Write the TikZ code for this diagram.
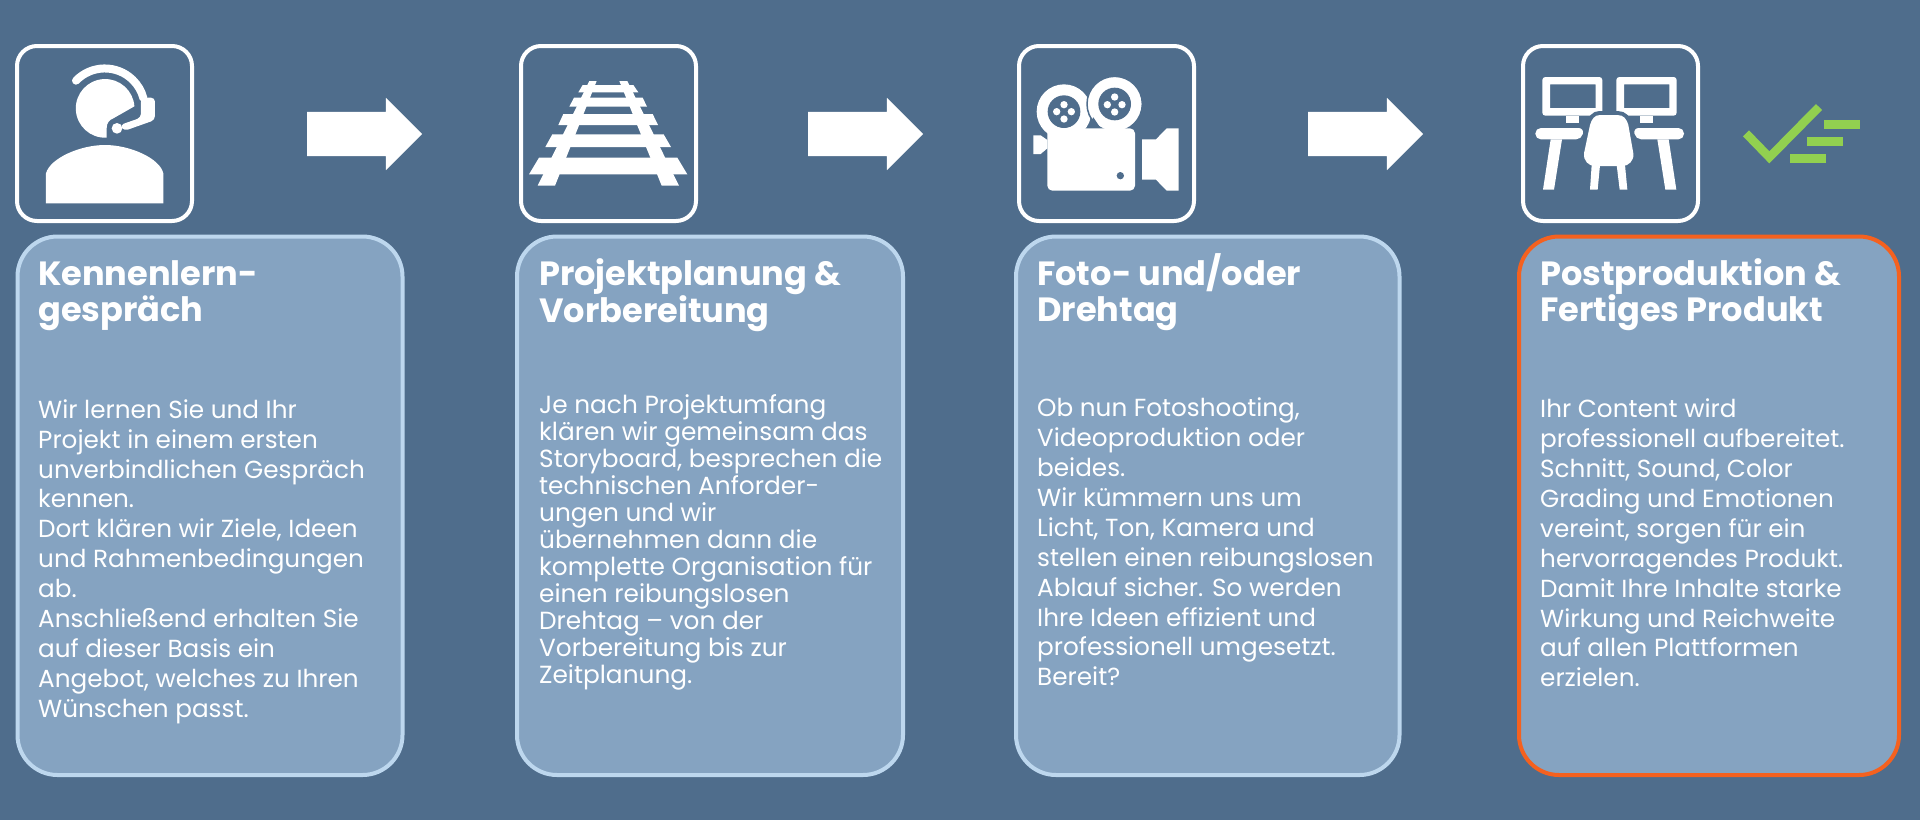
\documentclass[tikz,border=0pt]{standalone}
\usepackage{fontspec}
\setmainfont{Poppins}
\usetikzlibrary{shapes.arrows}
\definecolor{bgblue}{HTML}{4F6D8C}
\definecolor{cardfill}{HTML}{85A3C1}
\definecolor{cardline}{HTML}{BDD7EE}
\definecolor{cardhot}{HTML}{F4611F}
\definecolor{tickgreen}{HTML}{92D050}
\newcommand{\headtop}{\rule{0pt}{40pt}}
\newcommand{\bodytop}{\rule{0pt}{30pt}}

\begin{document}
\begin{tikzpicture}[
        x=1pt, y=-1pt,
        cardbox/.style={draw=cardline, line width=4pt, rounded corners=40pt, fill=cardfill, minimum width=385pt, minimum height=538.5pt, anchor=north west, inner sep=0pt, outer sep=0pt},
        iconbox/.style={draw=white, line width=4pt, rounded corners=20pt, minimum width=175pt, minimum height=175pt, anchor=north west, inner sep=0pt, outer sep=0pt},
        flowarrow/.style={single arrow, fill=white, minimum height=115pt, single arrow head extend=14pt, single arrow head indent=0pt, inner sep=0pt, outer sep=0pt, anchor=west, text height=22pt, text depth=22pt},
        headline/.style={anchor=north west, align=left, text=white, inner sep=0pt, font=\fontsize{33.6}{36}\selectfont\bfseries},
        bodytext/.style={anchor=north west, align=left, text=white, inner sep=0pt, font=\fontsize{24.7}{29.9}\selectfont},
        zoomed/.style={x=0.33333pt, y=-0.33333pt}
    ]

    \useasboundingbox (0,0) rectangle (1920,820);
    \fill[bgblue] (0,0) rectangle (1920,820);

    % icon frames
    \node[iconbox] (icon1) at (17,46) {};
    \node[iconbox] (icon2) at (521,46) {};
    \node[iconbox] (icon3) at (1019,46) {};
    \node[iconbox] (icon4) at (1523,46) {};

    % arrows between the steps
    \node[flowarrow] (flow1) at (307,134) {};
    \node[flowarrow] (flow2) at (808,134) {};
    \node[flowarrow] (flow3) at (1308,134) {};

    % cards
    \node[cardbox] (card1) at (17.5,236.5) {};
    \node[cardbox, minimum width=386pt] (card2) at (517,236.5) {};
    \node[cardbox, minimum width=383.5pt] (card3) at (1016,236.5) {};
    \node[cardbox, draw=cardhot, minimum width=380pt] (card4) at (1519,236.5) {};

    \node[headline] (head1) at (38,245) {\headtop Kennenlern-\\gespräch};
    \node[headline] (head2) at (539,245) {\headtop Projektplanung \&\\Vorbereitung};
    \node[headline] (head3) at (1037,245) {\headtop Foto- und/oder\\Drehtag};
    \node[headline] (head4) at (1540,245) {\headtop Postproduktion \&\\Fertiges Produkt};

    \node[bodytext] (text1) at (38,388) {\bodytop Wir lernen Sie und Ihr\\Projekt in einem ersten\\unverbindlichen Gespräch\\kennen.\\Dort klären wir Ziele, Ideen\\und Rahmenbedingungen\\ab.\\Anschließend erhalten Sie\\auf dieser Basis ein\\Angebot, welches zu Ihren\\Wünschen passt.};
    \node[bodytext, font=\fontsize{24.8}{27}\selectfont] (text2) at (539,383.5) {\bodytop Je nach Projektumfang\\klären wir gemeinsam das\\Storyboard, besprechen die\\technischen Anforder-\\ungen und wir\\übernehmen dann die\\komplette Organisation für\\einen reibungslosen\\Drehtag – von der\\Vorbereitung bis zur\\Zeitplanung.};
    \node[bodytext] (text3) at (1037,386.5) {\bodytop Ob nun Fotoshooting,\\Videoproduktion oder\\beides.\\Wir kümmern uns um\\Licht, Ton, Kamera und\\stellen einen reibungslosen\\Ablauf sicher. So werden\\Ihre Ideen effizient und\\professionell umgesetzt.\\Bereit?};
    \node[bodytext] (text4) at (1540,387.5) {\bodytop Ihr Content wird\\professionell aufbereitet.\\Schnitt, Sound, Color\\Grading und Emotionen\\vereint, sorgen für ein\\hervorragendes Produkt.\\Damit Ihre Inhalte starke\\Wirkung und Reichweite\\auf allen Plattformen\\erzielen.};

    % headset
    \begin{scope}[shift={(0,30)}, zoomed]
        \fill[white] (320,323) arc[start angle=87, end angle=356, radius=88] -- (340,265) .. controls (328,270) and (320,278) .. (320,295) -- cycle;
        \draw[white, line width=8pt, line cap=round] (228,152) arc[start angle=224, end angle=345, radius=120];
        \fill[white, rounded corners=4pt] (423,203) -- (465,203) -- (465,270) -- (372,303) -- (360,285) -- (423,263) -- cycle;
        \fill[white] (351,295) circle[radius=16];
        \fill[white] (138,520) -- (138,430) .. controls (150,385) and (240,345) .. (315,345) .. controls (390,345) and (480,385) .. (490,430) -- (490,520) -- cycle;
    \end{scope}

    % rails
    \begin{scope}[shift={(500,30)}, zoomed, fill=white]
        \fill (268,153) -- (290,153) -- (165,467) -- (113,467) -- cycle;
        \fill (358,153) -- (382,153) -- (537,467) -- (485,467) -- cycle;
        \fill (248,165) -- (400,165) -- (415,187) -- (235,187) -- cycle;
        \fill (222,203) -- (428,203) -- (441,230) -- (208,230) -- cycle;
        \fill (190,252) -- (458,252) -- (474,285) -- (175,285) -- cycle;
        \fill (157,313) -- (491,313) -- (513,351) -- (136,351) -- cycle;
        \fill (117,383) -- (532,383) -- (562,433) -- (87,433) -- cycle;
    \end{scope}

    % film camera
    \begin{scope}[shift={(1000,30)}, zoomed]
        \fill[white] (192,245) circle[radius=82];
        \fill[white, draw=bgblue, line width=1.5pt] (344,222) circle[radius=83];
        \fill[bgblue] (192,245) circle[radius=49];
        \fill[bgblue] (344,222) circle[radius=49];
        \foreach \px/\py in {192/224, 170/245, 214/245, 192/267, 344/201, 322/224, 366/224, 344/246}
            \fill[white] (\px,\py) circle[radius=11];
        \fill[bgblue] (260,295) -- (280,262) -- (302,295) -- cycle;
        \fill[white, rounded corners=5pt] (142,295) rectangle (405,482);
        \fill[bgblue] (361,437) circle[radius=11];
        \fill[white] (100,316) -- (122,316) -- (142,330) -- (142,355) -- (122,372) -- (100,372) -- cycle;
        \fill[white] (426,328) -- (468,328) -- (500,295) -- (536,295) -- (536,482) -- (500,482) -- (468,449) -- (426,449) -- cycle;
    \end{scope}

    % desks and chair
    \begin{scope}[shift={(1500,30)}, zoomed]
        \fill[white, rounded corners=3pt, even odd rule] (127,141) rectangle (307,257) [sharp corners] (150,163) rectangle (287,234);
        \fill[white, rounded corners=3pt, even odd rule] (349,141) rectangle (530,257) [sharp corners] (372,163) rectangle (508,234);
        \fill[white] (198,257) rectangle (236,278);
        \fill[white] (421,257) rectangle (459,278);
        \fill[white, rounded corners=5.5pt] (106,294) -- (252,294) -- (245,328) -- (106,328) -- cycle;
        \fill[white, rounded corners=5.5pt] (400,294) -- (552,294) -- (552,328) -- (407,328) -- cycle;
        \fill[white] (152,328) -- (186,328) -- (162,479) -- (129,479) -- cycle;
        \fill[white] (472,328) -- (506,328) -- (529,479) -- (496,479) -- cycle;
        \filldraw[fill=white, draw=bgblue, line width=8pt] (300,255) -- (352,255) .. controls (372,255) and (380,268) .. (385,285) -- (400,370) .. controls (403,392) and (385,408) .. (368,408) -- (285,408) .. controls (265,408) and (250,392) .. (252,370) -- (270,285) .. controls (275,268) and (283,255) .. (300,255) -- cycle;
        \fill[white] (300,255) -- (352,255) .. controls (372,255) and (380,268) .. (385,285) -- (400,370) .. controls (403,392) and (385,408) .. (368,408) -- (285,408) .. controls (265,408) and (250,392) .. (252,370) -- (270,285) .. controls (275,268) and (283,255) .. (300,255) -- cycle;
        \fill[white] (275,405) -- (300,405) -- (293,479) -- (270,479) -- cycle;
        \fill[white] (350,405) -- (375,405) -- (382,479) -- (359,479) -- cycle;
    \end{scope}

    % green tick
    \begin{scope}[shift={(1500,30)}, zoomed]
        \draw[tickgreen, line width=8.5pt, miter limit=4] (738,310) -- (808,382) -- (957,231);
        \fill[tickgreen] (973,270) rectangle (1079,298);
        \fill[tickgreen] (922,320) rectangle (1028,348);
        \fill[tickgreen] (871,371) rectangle (977,399);
    \end{scope}

    \end{tikzpicture}
\end{document}
